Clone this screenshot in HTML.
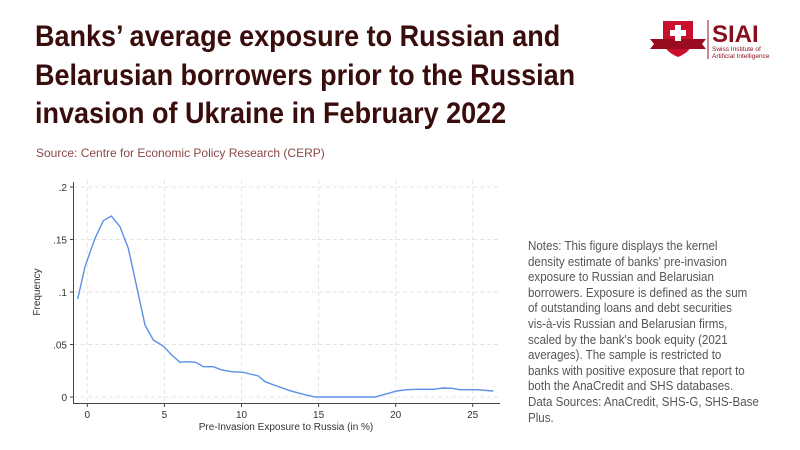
<!DOCTYPE html>
<html><head><meta charset="utf-8"><style>
body{margin:0;width:800px;height:450px;background:#fff;overflow:hidden;position:relative;font-family:"Liberation Sans",sans-serif}
.t{position:absolute;left:35px;top:18px;font-size:30px;font-weight:bold;line-height:38.5px;color:#3a0d0d;transform:scaleX(0.9);transform-origin:0 0;white-space:nowrap}
.s{position:absolute;left:36px;top:146px;font-size:12px;color:#8a4848}
.n{position:absolute;left:528px;top:238px;font-size:13px;line-height:15.6px;color:#555;white-space:nowrap;transform:scaleX(0.89);transform-origin:0 0}
</style></head><body>
<div class="t">Banks’ average exposure to Russian and<br>Belarusian borrowers prior to the Russian<br>invasion of Ukraine in February 2022</div>
<div class="s">Source: Centre for Economic Policy Research (CERP)</div>
<div class="n">Notes: This figure displays the kernel<br>density estimate of banks’ pre-invasion<br>exposure to Russian and Belarusian<br>borrowers. Exposure is defined as the sum<br>of outstanding loans and debt securities<br>vis-à-vis Russian and Belarusian firms,<br>scaled by the bank's book equity (2021<br>averages). The sample is restricted to<br>banks with positive exposure that report to<br>both the AnaCredit and SHS databases.<br>Data Sources: AnaCredit, SHS-G, SHS-Base<br>Plus.</div>
<svg width="800" height="450" style="position:absolute;left:0;top:0">
<g stroke="#e4e4e4" stroke-dasharray="4,3" stroke-width="1">
<line x1="74" x2="500" y1="187" y2="187"/><line x1="74" x2="500" y1="239.5" y2="239.5"/><line x1="74" x2="500" y1="292" y2="292"/><line x1="74" x2="500" y1="344.5" y2="344.5"/><line x1="74" x2="500" y1="397" y2="397"/>
<line x1="87.3" x2="87.3" y1="180" y2="403"/><line x1="164.4" x2="164.4" y1="180" y2="403"/><line x1="241.5" x2="241.5" y1="180" y2="403"/><line x1="318.6" x2="318.6" y1="180" y2="403"/><line x1="395.7" x2="395.7" y1="180" y2="403"/><line x1="472.7" x2="472.7" y1="180" y2="403"/>
</g>
<g stroke="#444" stroke-width="1">
<line x1="73.5" x2="73.5" y1="182" y2="403"/><line x1="73" x2="500" y1="403.5" y2="403.5"/>
<line x1="70" x2="73" y1="187" y2="187"/><line x1="70" x2="73" y1="239.5" y2="239.5"/><line x1="70" x2="73" y1="292" y2="292"/><line x1="70" x2="73" y1="344.5" y2="344.5"/><line x1="70" x2="73" y1="397" y2="397"/>
<line x1="87.3" x2="87.3" y1="403" y2="407"/><line x1="164.4" x2="164.4" y1="403" y2="407"/><line x1="241.5" x2="241.5" y1="403" y2="407"/><line x1="318.6" x2="318.6" y1="403" y2="407"/><line x1="395.7" x2="395.7" y1="403" y2="407"/><line x1="472.7" x2="472.7" y1="403" y2="407"/>
</g>
<g font-size="10" fill="#333" text-anchor="end">
<text x="67" y="191">.2</text><text x="67" y="243.5">.15</text><text x="67" y="296">.1</text><text x="67" y="348.5">.05</text><text x="67" y="401">0</text>
</g>
<g font-size="10" fill="#333" text-anchor="middle">
<text x="87.3" y="418">0</text><text x="164.4" y="418">5</text><text x="241.5" y="418">10</text><text x="318.6" y="418">15</text><text x="395.7" y="418">20</text><text x="472.7" y="418">25</text>
<text x="286" y="430">Pre-Invasion Exposure to Russia (in %)</text>
<text transform="translate(40,292) rotate(-90)">Frequency</text>
</g>
<polyline fill="none" stroke="#5b8fe8" stroke-width="1.4" points="77.7,299 85,266.7 95,238.3 103.3,220.7 111.3,216 120,226.7 128.3,248.3 136.7,286.7 145,325 153.3,340 163.3,346 171.7,355 180,362.3 186.7,361.7 195.7,362.3 203.3,366.7 213.3,366.7 221.7,370 231.7,371.7 243.3,372.3 250,374 258.3,376 265,381.7 276.7,386 290,390.7 303.3,394.3 315.3,397 375,397 385,394.3 396.7,391 406.7,389.7 416.7,389.3 433.3,389.3 443.3,388 451.7,388.3 460,389.7 476.7,389.7 493.3,391"/>
</svg>
<svg width="140" height="50" style="position:absolute;left:645px;top:15px">
<path d="M18,6 h30 v18 q0,12 -15,18 q-15,-6 -15,-18z" fill="#c8102e"/>
<path d="M5,24 h56 l-4,5 l4,5 h-56 l4,-5z" fill="#9a0c20"/>
<rect x="30" y="10" width="6" height="16" fill="#fff"/><rect x="25" y="15" width="16" height="6" fill="#fff"/>
<line x1="63" y1="5" x2="63" y2="44" stroke="#9a0c20" stroke-width="1"/>
<text x="67" y="27" font-size="24" font-weight="bold" fill="#8a0f1e" font-family="Liberation Sans,sans-serif">SIAI</text>
<text x="67" y="36" font-size="6.5" fill="#8a0f1e">Swiss Institute of</text>
<text x="67" y="43" font-size="6.5" fill="#8a0f1e">Artificial Intelligence</text>
</svg>
</body></html>
